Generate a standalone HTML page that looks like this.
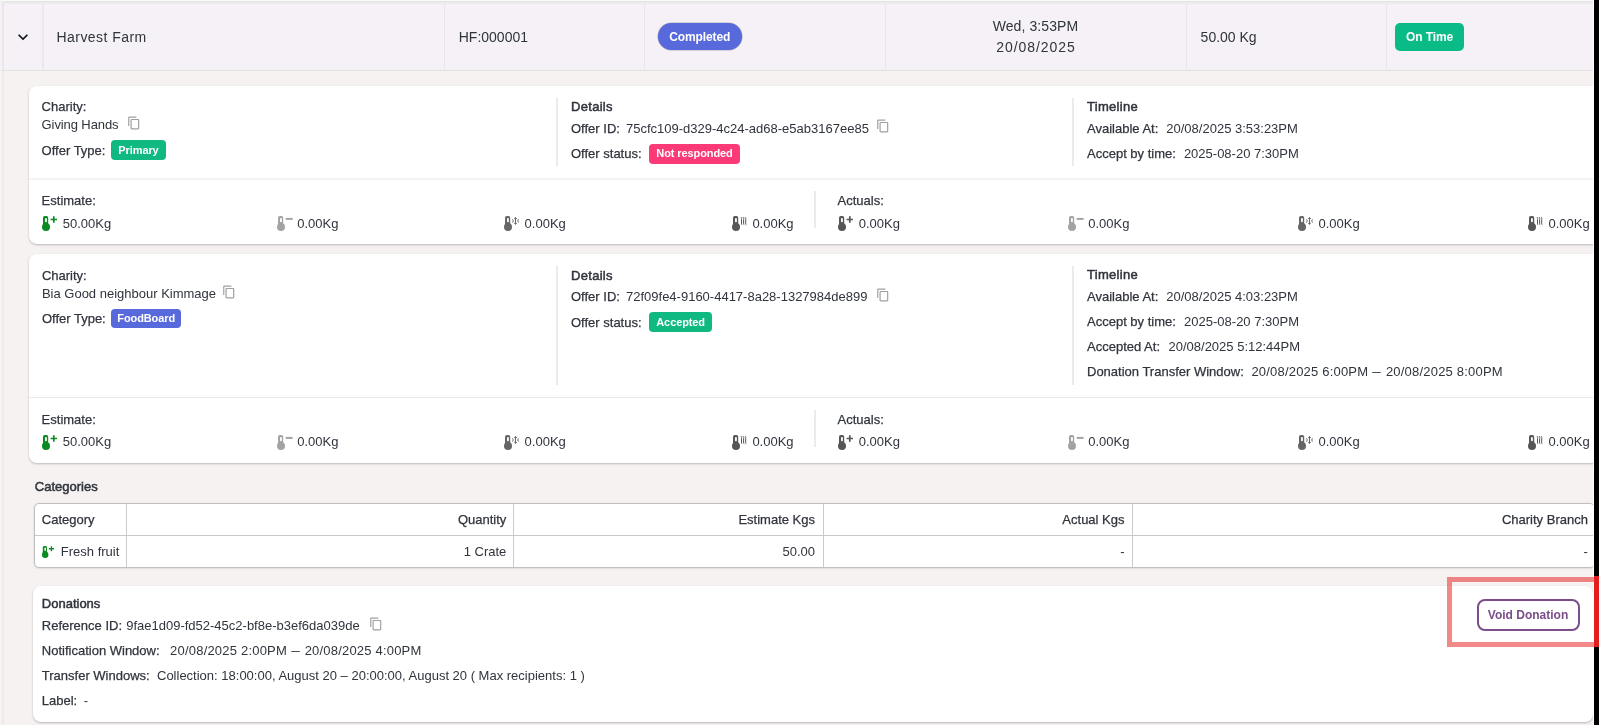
<!DOCTYPE html>
<html><head><meta charset="utf-8">
<style>
*{margin:0;padding:0;box-sizing:border-box}
html,body{width:1599px;height:725px;overflow:hidden}
body{position:relative;background:#f7f2f2;font-family:"Liberation Sans",sans-serif;color:#30343c}
.t{position:absolute;white-space:nowrap;line-height:1;font-size:13px}
.m{-webkit-text-stroke:0.25px #30343c}
.hh{-webkit-text-stroke:0.5px #30343c}
.h{font-size:14px}
.ln{position:absolute}
.card{position:absolute;background:#fff;border-radius:8px;box-shadow:0 1px 3px rgba(0,0,0,0.12),0 1px 2px rgba(0,0,0,0.14)}
.vd{position:absolute;width:2px;background:#ebebeb}
.hd{position:absolute;height:1px;background:#ececec}
.bdg{position:absolute;display:flex;align-items:center;justify-content:center;color:#fff;font-weight:bold;font-size:11px;border-radius:4px;white-space:nowrap;line-height:1;letter-spacing:-0.1px}
.ic{position:absolute}
#root{position:absolute;left:0;top:0;width:1599px;height:725px;will-change:transform}
.tbl{position:absolute;background:#fff;border:1px solid #bfbfbf;border-radius:5px;box-shadow:0 0 2px rgba(0,0,0,0.08),0 1px 2px rgba(0,0,0,0.08)}
.btn{position:absolute;display:flex;align-items:center;justify-content:center;border:2px solid #7b4d8b;border-radius:8px;color:#7b4d8b;font-weight:bold;font-size:12px;white-space:nowrap;background:#fff}
</style></head><body><div id="root">

<!-- top/left frame lines -->
<div class="ln" style="left:2px;top:0;width:1592px;height:1px;background:#fafafa"></div>
<div class="ln" style="left:2px;top:1px;width:1592px;height:1px;background:#e2e2e2"></div>
<div class="ln" style="left:2px;top:2px;width:1592px;height:2px;background:#ececef"></div>
<div class="ln" style="left:2px;top:1px;width:2px;height:70px;background:#e8e8ec"></div>
<div class="ln" style="left:2px;top:71px;width:2px;height:654px;background:#efebeb"></div>

<!-- header row -->
<div class="ln" style="left:4px;top:4px;width:1589px;height:66px;background:#f5f1f7"></div>
<div class="ln" style="left:1px;top:70px;width:1592px;height:1px;background:#e1e3e1"></div>
<div class="ln" style="left:42px;top:4px;width:2px;height:66px;background:#ebe9ee"></div>
<div class="ln" style="left:444px;top:4px;width:1px;height:66px;background:#e8e6eb"></div>
<div class="ln" style="left:644px;top:4px;width:1px;height:66px;background:#e8e6eb"></div>
<div class="ln" style="left:885px;top:4px;width:1px;height:66px;background:#e8e6eb"></div>
<div class="ln" style="left:1186px;top:4px;width:1px;height:66px;background:#e8e6eb"></div>
<div class="ln" style="left:1386px;top:4px;width:1px;height:66px;background:#e8e6eb"></div>

<svg class="ic" style="left:13px;top:27px" width="20" height="20" viewBox="0 0 24 24"><path d="M16.59 8.59L12 13.17 7.41 8.59 6 10l6 6 6-6z" fill="#111"/></svg>
<div class="t h" style="left:56.5px;top:30.15px;letter-spacing:0.45px">Harvest Farm</div>
<div class="t h" style="left:458.75px;top:30.05px">HF:000001</div>
<div class="bdg" style="left:657.8px;top:23px;width:83.8px;height:27px;border-radius:14px;background:#5869db;font-size:12px;box-shadow:0 0 0 0.6px rgba(60,60,90,0.35)">Completed</div>
<div class="t h" style="left:885px;width:301px;text-align:center;top:18.85px;letter-spacing:0.1px">Wed, 3:53PM</div>
<div class="t h" style="left:885.5px;width:301px;text-align:center;top:39.9px;letter-spacing:0.95px">20/08/2025</div>
<div class="t h" style="left:1200.6px;top:30.05px">50.00 Kg</div>
<div class="bdg" style="left:1395px;top:23px;width:69px;height:28px;border-radius:5px;background:#0bbb87;font-size:12px">On Time</div>

<!--CARDS-->
<div class="card" style="left:29px;top:86px;width:1580px;height:158px"></div>
<div class="t m" style="left:41.60px;top:100.00px;">Charity:</div>
<div class="t " style="left:41.60px;top:118.00px;letter-spacing:-0.1px">Giving Hands</div>
<svg class="ic" style="left:126.60px;top:116.00px" width="14" height="14" viewBox="0 0 24 24"><path fill="#a0a0a0" d="M16 1H4c-1.1 0-2 .9-2 2v14h2V3h12V1zm3 4H8c-1.1 0-2 .9-2 2v14c0 1.1.9 2 2 2h11c1.1 0 2-.9 2-2V7c0-1.1-.9-2-2-2zm0 16H8V7h11v14z"/></svg>
<div class="t m" style="left:41.60px;top:144.00px;">Offer Type:</div>
<div class="bdg" style="left:111.00px;top:140.30px;width:55.00px;height:19.70px;background:#10b981;font-size:11px;">Primary</div>
<div class="vd" style="left:556.00px;top:98.00px;height:68.00px"></div>
<div class="t hh" style="left:571.00px;top:100.00px;letter-spacing:0.3px">Details</div>
<div class="t m" style="left:571.00px;top:122.00px;">Offer ID:</div>
<div class="t " style="left:626.00px;top:122.00px;">75cfc109-d329-4c24-ad68-e5ab3167ee85</div>
<svg class="ic" style="left:876.30px;top:119.40px" width="14" height="14" viewBox="0 0 24 24"><path fill="#a0a0a0" d="M16 1H4c-1.1 0-2 .9-2 2v14h2V3h12V1zm3 4H8c-1.1 0-2 .9-2 2v14c0 1.1.9 2 2 2h11c1.1 0 2-.9 2-2V7c0-1.1-.9-2-2-2zm0 16H8V7h11v14z"/></svg>
<div class="t m" style="left:571.00px;top:147.00px;">Offer status:</div>
<div class="bdg" style="left:649.25px;top:143.75px;width:90.50px;height:19.75px;background:#fb3a77;font-size:11px;">Not responded</div>
<div class="vd" style="left:1072.00px;top:98.00px;height:68.00px"></div>
<div class="t hh" style="left:1087.00px;top:100.00px;letter-spacing:0.3px">Timeline</div>
<div class="t m" style="left:1087.00px;top:121.70px;">Available At:</div>
<div class="t " style="left:1166.30px;top:121.70px;">20/08/2025 3:53:23PM</div>
<div class="t m" style="left:1087.00px;top:146.60px;">Accept by time:</div>
<div class="t " style="left:1183.90px;top:146.60px;">2025-08-20 7:30PM</div>
<div class="hd" style="left:29px;top:178px;width:1565px;height:2px;background:#f3f3f3"></div>
<div class="t m" style="left:41.60px;top:194.00px;">Estimate:</div>
<div class="vd" style="left:814.00px;top:191.00px;height:37.00px"></div>
<div class="t m" style="left:837.50px;top:194.00px;">Actuals:</div>
<svg class="ic" style="left:42px;top:216px;color:#0b8a22" width="16.00" height="15.00" viewBox="0 0 16 15"><rect x="1" y="0" width="5.2" height="11" rx="1.8" fill="currentColor"/><rect x="3.05" y="1.9" width="1.8" height="4.3" rx="0.8" fill="#fff"/><circle cx="4" cy="10.9" r="4" fill="currentColor"/><path d="M8.6 3.5H15M11.8 0.3V6.7" stroke="currentColor" stroke-width="1.7" fill="none"/></svg>
<div class="t " style="left:62.70px;top:217.00px;">50.00Kg</div>
<svg class="ic" style="left:277px;top:216px;color:#a3a3a3" width="16.00" height="15.00" viewBox="0 0 16 15"><rect x="1" y="0" width="5.2" height="11" rx="1.8" fill="currentColor"/><rect x="3.05" y="1.9" width="1.8" height="4.3" rx="0.8" fill="#fff"/><circle cx="4" cy="10.9" r="4" fill="currentColor"/><path d="M8.7 2.9H15.6" stroke="currentColor" stroke-width="2" fill="none"/></svg>
<div class="t " style="left:297.20px;top:217.00px;">0.00Kg</div>
<svg class="ic" style="left:504px;top:216px;color:#666" width="16.00" height="15.00" viewBox="0 0 16 15"><rect x="1" y="0" width="5.2" height="11" rx="1.8" fill="currentColor"/><rect x="3.05" y="1.9" width="1.8" height="4.3" rx="0.8" fill="#fff"/><circle cx="4" cy="10.9" r="4" fill="currentColor"/><path d="M11.5 1.2V8.7M10.2 2.5H12.8M10.2 7.4H12.8M8.6 3.3Q9.9 4.95 8.6 6.6M14.4 3.3Q13.1 4.95 14.4 6.6" stroke="currentColor" stroke-width="1" fill="none"/></svg>
<div class="t " style="left:524.60px;top:217.00px;">0.00Kg</div>
<svg class="ic" style="left:732px;top:216px;color:#565656" width="16.00" height="15.00" viewBox="0 0 16 15"><rect x="1" y="0" width="5.2" height="11" rx="1.8" fill="currentColor"/><rect x="3.05" y="1.9" width="1.8" height="4.3" rx="0.8" fill="#fff"/><circle cx="4" cy="10.9" r="4" fill="currentColor"/><path d="M9 1.2Q10.1 2.3 9.5 3.6V7.9Q9.5 8.6 10.1 8.8M11.1 1.2Q12.2 2.3 11.6 3.6V7.9Q11.6 8.6 12.2 8.8M13.2 1.2Q14.3 2.3 13.7 3.6V7.9Q13.7 8.6 14.3 8.8" stroke="currentColor" stroke-width="1" fill="none"/></svg>
<div class="t " style="left:752.40px;top:217.00px;">0.00Kg</div>
<svg class="ic" style="left:838px;top:216px;color:#565656" width="16.00" height="15.00" viewBox="0 0 16 15"><rect x="1" y="0" width="5.2" height="11" rx="1.8" fill="currentColor"/><rect x="3.05" y="1.9" width="1.8" height="4.3" rx="0.8" fill="#fff"/><circle cx="4" cy="10.9" r="4" fill="currentColor"/><path d="M8.6 3.5H15M11.8 0.3V6.7" stroke="currentColor" stroke-width="1.7" fill="none"/></svg>
<div class="t " style="left:858.75px;top:217.00px;">0.00Kg</div>
<svg class="ic" style="left:1068px;top:216px;color:#a3a3a3" width="16.00" height="15.00" viewBox="0 0 16 15"><rect x="1" y="0" width="5.2" height="11" rx="1.8" fill="currentColor"/><rect x="3.05" y="1.9" width="1.8" height="4.3" rx="0.8" fill="#fff"/><circle cx="4" cy="10.9" r="4" fill="currentColor"/><path d="M8.7 2.9H15.6" stroke="currentColor" stroke-width="2" fill="none"/></svg>
<div class="t " style="left:1088.20px;top:217.00px;">0.00Kg</div>
<svg class="ic" style="left:1298px;top:216px;color:#666" width="16.00" height="15.00" viewBox="0 0 16 15"><rect x="1" y="0" width="5.2" height="11" rx="1.8" fill="currentColor"/><rect x="3.05" y="1.9" width="1.8" height="4.3" rx="0.8" fill="#fff"/><circle cx="4" cy="10.9" r="4" fill="currentColor"/><path d="M11.5 1.2V8.7M10.2 2.5H12.8M10.2 7.4H12.8M8.6 3.3Q9.9 4.95 8.6 6.6M14.4 3.3Q13.1 4.95 14.4 6.6" stroke="currentColor" stroke-width="1" fill="none"/></svg>
<div class="t " style="left:1318.50px;top:217.00px;">0.00Kg</div>
<svg class="ic" style="left:1528px;top:216px;color:#565656" width="16.00" height="15.00" viewBox="0 0 16 15"><rect x="1" y="0" width="5.2" height="11" rx="1.8" fill="currentColor"/><rect x="3.05" y="1.9" width="1.8" height="4.3" rx="0.8" fill="#fff"/><circle cx="4" cy="10.9" r="4" fill="currentColor"/><path d="M9 1.2Q10.1 2.3 9.5 3.6V7.9Q9.5 8.6 10.1 8.8M11.1 1.2Q12.2 2.3 11.6 3.6V7.9Q11.6 8.6 12.2 8.8M13.2 1.2Q14.3 2.3 13.7 3.6V7.9Q13.7 8.6 14.3 8.8" stroke="currentColor" stroke-width="1" fill="none"/></svg>
<div class="t " style="left:1548.50px;top:217.00px;">0.00Kg</div>
<div class="card" style="left:29px;top:254.3px;width:1580px;height:208.90px"></div>
<div class="t m" style="left:41.90px;top:268.90px;">Charity:</div>
<div class="t " style="left:41.90px;top:286.80px;">Bia Good neighbour Kimmage</div>
<svg class="ic" style="left:222.00px;top:284.80px" width="14" height="14" viewBox="0 0 24 24"><path fill="#a0a0a0" d="M16 1H4c-1.1 0-2 .9-2 2v14h2V3h12V1zm3 4H8c-1.1 0-2 .9-2 2v14c0 1.1.9 2 2 2h11c1.1 0 2-.9 2-2V7c0-1.1-.9-2-2-2zm0 16H8V7h11v14z"/></svg>
<div class="t m" style="left:41.90px;top:311.50px;">Offer Type:</div>
<div class="bdg" style="left:111.10px;top:308.80px;width:70.20px;height:19.40px;background:#5869db;font-size:11px;">FoodBoard</div>
<div class="vd" style="left:556.00px;top:266.00px;height:119.00px"></div>
<div class="t hh" style="left:571.00px;top:268.50px;letter-spacing:0.3px">Details</div>
<div class="t m" style="left:571.00px;top:290.00px;">Offer ID:</div>
<div class="t " style="left:626.00px;top:290.00px;">72f09fe4-9160-4417-8a28-1327984de899</div>
<svg class="ic" style="left:875.80px;top:288.20px" width="14" height="14" viewBox="0 0 24 24"><path fill="#a0a0a0" d="M16 1H4c-1.1 0-2 .9-2 2v14h2V3h12V1zm3 4H8c-1.1 0-2 .9-2 2v14c0 1.1.9 2 2 2h11c1.1 0 2-.9 2-2V7c0-1.1-.9-2-2-2zm0 16H8V7h11v14z"/></svg>
<div class="t m" style="left:571.00px;top:315.50px;">Offer status:</div>
<div class="bdg" style="left:649.25px;top:312.25px;width:62.75px;height:19.50px;background:#10b981;font-size:11px;">Accepted</div>
<div class="vd" style="left:1072.00px;top:266.00px;height:119.00px"></div>
<div class="t hh" style="left:1087.00px;top:268.40px;letter-spacing:0.3px">Timeline</div>
<div class="t m" style="left:1087.00px;top:289.80px;">Available At:</div>
<div class="t " style="left:1166.30px;top:289.80px;">20/08/2025 4:03:23PM</div>
<div class="t m" style="left:1087.00px;top:315.20px;">Accept by time:</div>
<div class="t " style="left:1184.10px;top:315.20px;">2025-08-20 7:30PM</div>
<div class="t m" style="left:1087.00px;top:340.40px;">Accepted At:</div>
<div class="t " style="left:1168.50px;top:340.40px;">20/08/2025 5:12:44PM</div>
<div class="t m" style="left:1087.00px;top:364.90px;">Donation Transfer Window:</div>
<div class="t " style="left:1251.40px;top:364.90px;letter-spacing:0.2px">20/08/2025 6:00PM <span style="display:inline-block;transform:scaleX(1.18);margin:0 1.3px">–</span> 20/08/2025 8:00PM</div>
<div class="hd" style="left:29.00px;top:397.00px;width:1565.00px;background:#e9e7e8;"></div>
<div class="t m" style="left:41.60px;top:412.70px;">Estimate:</div>
<div class="vd" style="left:814.00px;top:409.50px;height:37.00px"></div>
<div class="t m" style="left:837.50px;top:412.70px;">Actuals:</div>
<svg class="ic" style="left:42px;top:435px;color:#0b8a22" width="16.00" height="15.00" viewBox="0 0 16 15"><rect x="1" y="0" width="5.2" height="11" rx="1.8" fill="currentColor"/><rect x="3.05" y="1.9" width="1.8" height="4.3" rx="0.8" fill="#fff"/><circle cx="4" cy="10.9" r="4" fill="currentColor"/><path d="M8.6 3.5H15M11.8 0.3V6.7" stroke="currentColor" stroke-width="1.7" fill="none"/></svg>
<div class="t " style="left:62.70px;top:434.80px;">50.00Kg</div>
<svg class="ic" style="left:277px;top:435px;color:#a3a3a3" width="16.00" height="15.00" viewBox="0 0 16 15"><rect x="1" y="0" width="5.2" height="11" rx="1.8" fill="currentColor"/><rect x="3.05" y="1.9" width="1.8" height="4.3" rx="0.8" fill="#fff"/><circle cx="4" cy="10.9" r="4" fill="currentColor"/><path d="M8.7 2.9H15.6" stroke="currentColor" stroke-width="2" fill="none"/></svg>
<div class="t " style="left:297.20px;top:434.80px;">0.00Kg</div>
<svg class="ic" style="left:504px;top:435px;color:#666" width="16.00" height="15.00" viewBox="0 0 16 15"><rect x="1" y="0" width="5.2" height="11" rx="1.8" fill="currentColor"/><rect x="3.05" y="1.9" width="1.8" height="4.3" rx="0.8" fill="#fff"/><circle cx="4" cy="10.9" r="4" fill="currentColor"/><path d="M11.5 1.2V8.7M10.2 2.5H12.8M10.2 7.4H12.8M8.6 3.3Q9.9 4.95 8.6 6.6M14.4 3.3Q13.1 4.95 14.4 6.6" stroke="currentColor" stroke-width="1" fill="none"/></svg>
<div class="t " style="left:524.60px;top:434.80px;">0.00Kg</div>
<svg class="ic" style="left:732px;top:435px;color:#565656" width="16.00" height="15.00" viewBox="0 0 16 15"><rect x="1" y="0" width="5.2" height="11" rx="1.8" fill="currentColor"/><rect x="3.05" y="1.9" width="1.8" height="4.3" rx="0.8" fill="#fff"/><circle cx="4" cy="10.9" r="4" fill="currentColor"/><path d="M9 1.2Q10.1 2.3 9.5 3.6V7.9Q9.5 8.6 10.1 8.8M11.1 1.2Q12.2 2.3 11.6 3.6V7.9Q11.6 8.6 12.2 8.8M13.2 1.2Q14.3 2.3 13.7 3.6V7.9Q13.7 8.6 14.3 8.8" stroke="currentColor" stroke-width="1" fill="none"/></svg>
<div class="t " style="left:752.40px;top:434.80px;">0.00Kg</div>
<svg class="ic" style="left:838px;top:435px;color:#565656" width="16.00" height="15.00" viewBox="0 0 16 15"><rect x="1" y="0" width="5.2" height="11" rx="1.8" fill="currentColor"/><rect x="3.05" y="1.9" width="1.8" height="4.3" rx="0.8" fill="#fff"/><circle cx="4" cy="10.9" r="4" fill="currentColor"/><path d="M8.6 3.5H15M11.8 0.3V6.7" stroke="currentColor" stroke-width="1.7" fill="none"/></svg>
<div class="t " style="left:858.75px;top:434.80px;">0.00Kg</div>
<svg class="ic" style="left:1068px;top:435px;color:#a3a3a3" width="16.00" height="15.00" viewBox="0 0 16 15"><rect x="1" y="0" width="5.2" height="11" rx="1.8" fill="currentColor"/><rect x="3.05" y="1.9" width="1.8" height="4.3" rx="0.8" fill="#fff"/><circle cx="4" cy="10.9" r="4" fill="currentColor"/><path d="M8.7 2.9H15.6" stroke="currentColor" stroke-width="2" fill="none"/></svg>
<div class="t " style="left:1088.20px;top:434.80px;">0.00Kg</div>
<svg class="ic" style="left:1298px;top:435px;color:#666" width="16.00" height="15.00" viewBox="0 0 16 15"><rect x="1" y="0" width="5.2" height="11" rx="1.8" fill="currentColor"/><rect x="3.05" y="1.9" width="1.8" height="4.3" rx="0.8" fill="#fff"/><circle cx="4" cy="10.9" r="4" fill="currentColor"/><path d="M11.5 1.2V8.7M10.2 2.5H12.8M10.2 7.4H12.8M8.6 3.3Q9.9 4.95 8.6 6.6M14.4 3.3Q13.1 4.95 14.4 6.6" stroke="currentColor" stroke-width="1" fill="none"/></svg>
<div class="t " style="left:1318.50px;top:434.80px;">0.00Kg</div>
<svg class="ic" style="left:1528px;top:435px;color:#565656" width="16.00" height="15.00" viewBox="0 0 16 15"><rect x="1" y="0" width="5.2" height="11" rx="1.8" fill="currentColor"/><rect x="3.05" y="1.9" width="1.8" height="4.3" rx="0.8" fill="#fff"/><circle cx="4" cy="10.9" r="4" fill="currentColor"/><path d="M9 1.2Q10.1 2.3 9.5 3.6V7.9Q9.5 8.6 10.1 8.8M11.1 1.2Q12.2 2.3 11.6 3.6V7.9Q11.6 8.6 12.2 8.8M13.2 1.2Q14.3 2.3 13.7 3.6V7.9Q13.7 8.6 14.3 8.8" stroke="currentColor" stroke-width="1" fill="none"/></svg>
<div class="t " style="left:1548.50px;top:434.80px;">0.00Kg</div>
<div class="t hh" style="left:34.80px;top:479.70px;">Categories</div>
<div class="tbl" style="left:34.4px;top:503.3px;width:1560.6px;height:65px"></div>
<div class="ln" style="left:126px;top:504px;width:1px;height:63px;background:#cacaca"></div>
<div class="ln" style="left:513px;top:504px;width:1px;height:63px;background:#cacaca"></div>
<div class="ln" style="left:822.5px;top:504px;width:1px;height:63px;background:#cacaca"></div>
<div class="ln" style="left:1131.5px;top:504px;width:1px;height:63px;background:#cacaca"></div>
<div class="ln" style="left:35px;top:535px;width:1559px;height:1px;background:#c8c8c8"></div>
<div class="t m" style="left:41.80px;top:512.70px;">Category</div>
<div class="t m" style="right:1092.70px;top:512.70px;">Quantity</div>
<div class="t m" style="right:784.00px;top:512.70px;">Estimate Kgs</div>
<div class="t m" style="right:474.50px;top:512.70px;">Actual Kgs</div>
<div class="t m" style="right:11.10px;top:512.70px;">Charity Branch</div>
<svg class="ic" style="left:42px;top:546px;color:#0b8a22" width="12.80" height="12.00" viewBox="0 0 16 15"><rect x="1" y="0" width="5.2" height="11" rx="1.8" fill="currentColor"/><rect x="3.05" y="1.9" width="1.8" height="4.3" rx="0.8" fill="#fff"/><circle cx="4" cy="10.9" r="4" fill="currentColor"/><path d="M8.6 3.5H15M11.8 0.3V6.7" stroke="currentColor" stroke-width="1.7" fill="none"/></svg>
<div class="t " style="left:60.80px;top:544.70px;">Fresh fruit</div>
<div class="t " style="right:1092.70px;top:544.70px;">1 Crate</div>
<div class="t " style="right:784.00px;top:544.70px;">50.00</div>
<div class="t " style="right:474.50px;top:544.70px;">-</div>
<div class="t " style="right:11.10px;top:544.70px;">-</div>
<div class="card" style="left:32.8px;top:586px;width:1560.2px;height:136.2px"></div>
<div class="t hh" style="left:41.80px;top:597.00px;">Donations</div>
<div class="t m" style="left:41.80px;top:618.80px;">Reference ID:</div>
<div class="t " style="left:126.20px;top:618.80px;">9fae1d09-fd52-45c2-bf8e-b3ef6da039de</div>
<svg class="ic" style="left:368.80px;top:616.60px" width="14" height="14" viewBox="0 0 24 24"><path fill="#a0a0a0" d="M16 1H4c-1.1 0-2 .9-2 2v14h2V3h12V1zm3 4H8c-1.1 0-2 .9-2 2v14c0 1.1.9 2 2 2h11c1.1 0 2-.9 2-2V7c0-1.1-.9-2-2-2zm0 16H8V7h11v14z"/></svg>
<div class="t m" style="left:41.80px;top:644.00px;">Notification Window:</div>
<div class="t " style="left:170.10px;top:644.00px;letter-spacing:0.2px">20/08/2025 2:00PM <span style="display:inline-block;transform:scaleX(1.18);margin:0 1.3px">–</span> 20/08/2025 4:00PM</div>
<div class="t m" style="left:41.80px;top:669.00px;">Transfer Windows:</div>
<div class="t " style="left:157.00px;top:669.00px;">Collection: 18:00:00, August 20 – 20:00:00, August 20 ( Max recipients: 1 )</div>
<div class="t m" style="left:41.80px;top:693.80px;">Label:</div>
<div class="t " style="left:83.80px;top:693.80px;">-</div>
<div class="btn" style="left:1476.5px;top:599.3px;width:103px;height:31.3px">Void Donation</div>

<!-- overlays: right edge -->
<div class="ln" style="left:1593px;top:0;width:1px;height:725px;background:#fff"></div>
<div class="ln" style="left:1594px;top:0;width:5px;height:725px;background:#000"></div>
<div class="ln" style="left:1447px;top:577px;width:160px;height:70px;border:5.7px solid rgba(232,40,40,0.55)"></div>
<div class="ln" style="left:1594px;top:576px;width:5px;height:71px;background:#e41d1d"></div>
</div></body></html>
